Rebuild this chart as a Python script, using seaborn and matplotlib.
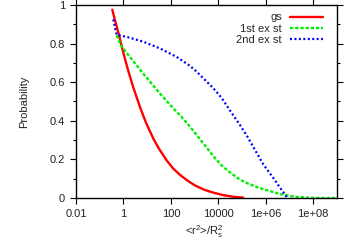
import numpy as np
import pandas as pd
import seaborn as sns
import matplotlib
matplotlib.use("Agg")
import matplotlib.pyplot as plt
from matplotlib.ticker import MultipleLocator, NullLocator

# values
gs_x = [0.339, 0.437, 0.631, 1, 1.585, 2.57, 5.01, 8.91, 17.8, 31.6, 66.1, 126, 240, 501,
        1000, 2512, 6026, 15850, 39810, 109600]
gs_y = [0.976, 0.922, 0.85, 0.75, 0.66, 0.575, 0.47, 0.39, 0.31, 0.255, 0.195, 0.152, 0.12, 0.09,
        0.066, 0.043, 0.028, 0.015, 0.007, 0.002]

ex1_x = [0.513, 0.832, 1.86, 6.76, 34.7, 100, 282, 562, 1202, 2512, 6026, 13490, 30200, 79430,
         154900, 407400, 776200, 2.04e6, 3.89e6, 1e7, 1.95e7, 5.13e7, 2e8, 1e9]
ex1_y = [0.843, 0.785, 0.731, 0.645, 0.541, 0.478, 0.42, 0.377, 0.328, 0.278, 0.218, 0.17, 0.133, 0.096,
         0.078, 0.057, 0.046, 0.031, 0.021, 0.011, 0.006, 0.002, 0.0, 0.0]

ex2_x = [0.372, 0.513, 1.35, 6.76, 34.7, 174, 631, 1202, 6026, 13490, 30200, 79430, 154900,
         407400, 776200, 2.04e6, 3.89e6, 6.31e6, 7.41e6]
ex2_y = [0.925, 0.846, 0.835, 0.81, 0.775, 0.731, 0.685, 0.655, 0.57, 0.52, 0.455, 0.38, 0.325,
         0.235, 0.175, 0.105, 0.055, 0.02, 0.005]

xticks = [1e-2, 1, 1e2, 1e4, 1e6, 1e8]
xtick_labels = ["0.01", "1", "100", "10000", "1e+06", "1e+08"]
yticks = [0, 0.2, 0.4, 0.6, 0.8, 1]
ytick_labels = ["0", "0.2", "0.4", "0.6", "0.8", "1"]

sns.set_style("ticks")
plt.rcParams["font.family"] = ["Liberation Sans", "DejaVu Sans"]
plt.rcParams["mathtext.fontset"] = "custom"
plt.rcParams["mathtext.rm"] = "Liberation Sans"
plt.rcParams["font.size"] = 8

fig = plt.figure(figsize=(3.6, 2.52), dpi=100)
ax = fig.add_axes([76 / 360, 1 - 198 / 252, 261 / 360, 193 / 252])

sns.lineplot(x=gs_x, y=gs_y, ax=ax, color="#ff0000", lw=1.7, label="gs")
sns.lineplot(x=ex1_x, y=ex1_y, ax=ax, color="#00ee00", lw=1.7, label="1st ex st",
             linestyle=(0, (1.4, 0.8)))
sns.lineplot(x=ex2_x, y=ex2_y, ax=ax, color="#0000ff", lw=1.6, label="2nd ex st",
             linestyle=(0, (0.9, 1.1)))

ax.set_xscale("log")
ax.set_xlim(1e-2, 1e9)
ax.set_ylim(0, 1)
ax.set_xticks(xticks, xtick_labels)
ax.xaxis.set_minor_locator(NullLocator())
ax.set_yticks(yticks, ytick_labels)
ax.yaxis.set_minor_locator(MultipleLocator(0.1))

for s in ax.spines.values():
    s.set_visible(True)
    s.set_linewidth(1.0)
    s.set_color("black")
ax.tick_params(which="both", direction="out", top=True, right=True, colors="black",
               labelcolor="#222222", width=0.8)
ax.tick_params(which="major", length=4, pad=4, labelsize=8)
ax.tick_params(which="minor", length=2.5)

ax.set_xlabel(r"<r$^\mathrm{2}$>/R$_\mathrm{s}^\mathrm{2}$", fontsize=8, color="#222222")
ax.set_ylabel("Probability", fontsize=8, color="#222222")
ax.xaxis.set_label_coords(0.49, -0.13)
ax.yaxis.set_label_coords(-0.18, 0.5)

leg = ax.legend(loc="upper right", bbox_to_anchor=(1 - 14 / 261, 1 - 7.5 / 193),
                frameon=False, markerfirst=False, fontsize=8,
                handlelength=3, handletextpad=0.7, labelspacing=0.12,
                borderaxespad=0, borderpad=0)

fig.savefig("out.png", dpi=100)
